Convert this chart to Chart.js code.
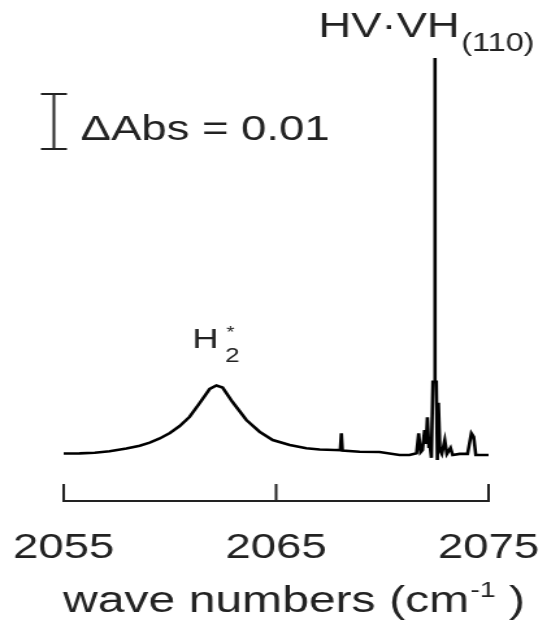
<!DOCTYPE html>
<html>
<head>
<meta charset="utf-8">
<script src="https://cdn.jsdelivr.net/npm/chart.js@4/dist/chart.umd.min.js"></script>
<style>
  html, body { margin: 0; padding: 0; background: #fff; overflow: hidden; }
  /* the reference is stretched sideways, so the chart is drawn narrow and widened */
  #wrap { width: 421px; height: 624px; transform: scale(1.2993, 1); transform-origin: 0 0; }
</style>
</head>
<body>
<div id="wrap">
  <canvas id="chart" width="421" height="624" style="width:421px;height:624px"></canvas>
</div>
<script>
// wave numbers (cm-1)
const waveNumbers = [
  2055.00, 2055.75, 2056.46, 2057.16, 2057.95, 2058.58, 2059.05, 2059.52, 2060.00, 2060.46,
  2060.93, 2061.40, 2061.87, 2062.19, 2062.48, 2062.95, 2063.60, 2064.22, 2064.84, 2065.64,
  2066.42, 2067.05, 2067.75, 2068.02, 2068.07, 2068.12, 2068.93, 2069.87, 2070.81, 2071.28,
  2071.61, 2071.71, 2071.80, 2071.89, 2071.99, 2072.06, 2072.12, 2072.19, 2072.24, 2072.31,
  2072.38, 2072.45, 2072.47, 2072.49, 2072.54, 2072.59, 2072.64, 2072.71, 2072.80, 2072.94,
  2073.04, 2073.21, 2073.31, 2073.64, 2074.01, 2074.19, 2074.30, 2074.40, 2075.00
];
// absorbance, in units of 0.001
const absorbance = [
  0.27, 0.30, 0.42, 0.67, 1.18, 1.69, 2.24, 3.00, 4.00, 5.27,
  6.96, 9.45, 12.00, 12.64, 12.27, 9.64, 6.36, 4.24, 2.73, 1.82,
  1.22, 1.00, 0.91, 0.90, 3.95, 0.80, 0.60, 0.55, 0.00, 0.00,
  0.30, 3.95, 0.50, 0.90, 4.55, 2.00, 6.85, 1.50, 1.80, -0.50,
  13.30, 13.30, 72.20, 13.30, 13.30, -0.90, 9.50, 0.90, 0.20, 2.70,
  0.20, 1.27, 0.00, 0.20, 0.20, 3.95, 3.30, 0.00, 0.00
];
const tickValues = [2055, 2065, 2075];
const scaleBarValue = 10; // 0.01 Abs

const FONT = '"Liberation Sans", Arial, sans-serif';
const INK = '#222';

const points = waveNumbers.map((w, i) => ({ x: w, y: absorbance[i] }));

// axis bracket, axis title, scale bar and peak labels
const annotate = {
  id: 'annotate',
  afterDraw(chart) {
    const { ctx, chartArea, scales: { x, y } } = chart;
    ctx.save();
    ctx.strokeStyle = INK;
    ctx.fillStyle = INK;
    ctx.lineWidth = 2;

    // x axis with ticks pointing up
    const base = chartArea.bottom;
    ctx.beginPath();
    ctx.moveTo(x.getPixelForValue(tickValues[0]), base);
    ctx.lineTo(x.getPixelForValue(tickValues[tickValues.length - 1]), base);
    tickValues.forEach(v => {
      const px = x.getPixelForValue(v);
      ctx.moveTo(px, base + 1);
      ctx.lineTo(px, base - 17);
    });
    ctx.stroke();

    ctx.textBaseline = 'alphabetic';
    ctx.textAlign = 'left';

    // axis title with superscript
    let tx = 48.5;
    ctx.font = '37px ' + FONT;
    ctx.fillText('wave numbers (cm', tx, 612);
    tx += ctx.measureText('wave numbers (cm').width + 1;
    ctx.font = '22px ' + FONT;
    ctx.fillText('-1', tx, 597);
    tx += ctx.measureText('-1').width;
    ctx.font = '37px ' + FONT;
    ctx.fillText(' )', tx, 612);

    // scale bar
    const len = y.getPixelForValue(0) - y.getPixelForValue(scaleBarValue);
    const bx = 41.5, top = 94;
    ctx.beginPath();
    ctx.moveTo(bx, top); ctx.lineTo(bx, top + len);
    ctx.moveTo(bx - 10, top); ctx.lineTo(bx + 10, top);
    ctx.moveTo(bx - 10, top + len); ctx.lineTo(bx + 10, top + len);
    ctx.stroke();

    ctx.font = '35px ' + FONT;
    ctx.fillText('\u0394Abs = 0.01', 62, 140);

    // sharp peak label
    ctx.font = '35px ' + FONT;
    const main = 'HV\u00B7VH';
    ctx.fillText(main, 245, 37);
    const w1 = ctx.measureText(main).width;
    ctx.font = '25px ' + FONT;
    ctx.fillText('(110)', 245 + w1 + 1, 51);

    // broad peak label
    ctx.font = '28px ' + FONT;
    ctx.fillText('H', 148, 348);
    const w2 = ctx.measureText('H').width;
    ctx.font = '20px ' + FONT;
    ctx.fillText('2', 148 + w2 + 5, 362);
    ctx.font = '16px ' + FONT;
    ctx.fillText('*', 148 + w2 + 6, 338);
    ctx.restore();
  }
};

new Chart(document.getElementById('chart').getContext('2d'), {
  type: 'line',
  data: {
    datasets: [{
      data: points,
      borderColor: '#000',
      borderWidth: 2.6,
      pointRadius: 0,
      tension: 0,
      fill: false
    }]
  },
  options: {
    responsive: false,
    devicePixelRatio: 1,
    animation: false,
    layout: { padding: { left: 49, right: 45, top: 40, bottom: 55 } },
    plugins: { legend: { display: false }, tooltip: { enabled: false } },
    scales: {
      x: {
        type: 'linear',
        min: 2055,
        max: 2075,
        afterBuildTicks: scale => { scale.ticks = tickValues.map(v => ({ value: v })); },
        grid: { display: false, drawTicks: true, tickLength: 26 },
        border: { display: false },
        ticks: {
          padding: 0,
          color: INK,
          font: { family: FONT, size: 35 },
          callback: v => String(v)
        },
        title: { display: false }
      },
      y: {
        display: false,
        min: -8.36,
        max: 75.45
      }
    }
  },
  plugins: [annotate]
});
</script>
</body>
</html>
